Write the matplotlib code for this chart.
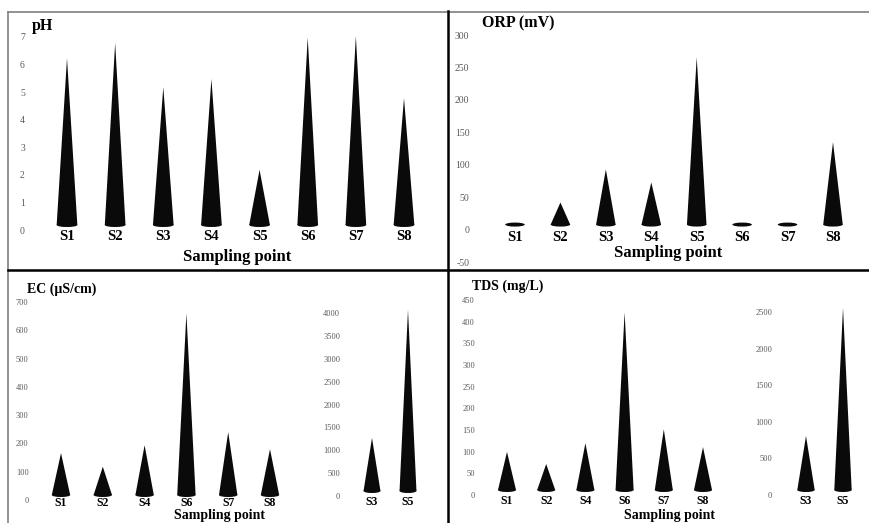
import matplotlib
matplotlib.use("Agg")
import matplotlib.pyplot as plt
from matplotlib.patches import Polygon, Ellipse
from matplotlib.transforms import ScaledTranslation
from matplotlib.lines import Line2D

plt.rcParams["font.family"] = ["Liberation Serif", "DejaVu Serif"]
plt.rcParams["axes.unicode_minus"] = False

W, H = 870, 523

# ---- data ----
ph_sites = ["S1", "S2", "S3", "S4", "S5", "S6", "S7", "S8"]
ph_values = [6.05, 6.6, 5.0, 5.3, 2.0, 6.8, 6.85, 4.6]
ph_ticks = list(range(0, 8))

orp_sites = ["S1", "S2", "S3", "S4", "S5", "S6", "S7", "S8"]
orp_values = [2, 34, 85, 65, 258, 2, 2, 127]
orp_ticks = list(range(-50, 301, 50))

ec_sites = ["S1", "S2", "S4", "S6", "S7", "S8"]
ec_values = [148, 100, 176, 642, 222, 162]
ec_ticks = list(range(0, 701, 100))
ec_high_sites = ["S3", "S5"]
ec_high_values = [1160, 3960]
ec_high_ticks = list(range(0, 4001, 500))

tds_sites = ["S1", "S2", "S4", "S6", "S7", "S8"]
tds_values = [88, 60, 108, 410, 140, 99]
tds_ticks = list(range(0, 451, 50))
tds_high_sites = ["S3", "S5"]
tds_high_values = [738, 2487]
tds_high_ticks = list(range(0, 2501, 500))

fig = plt.figure(figsize=(W / 100, H / 100), dpi=100)
fig.patch.set_facecolor("white")


def make_axes(first_px, last_px, n, ticks, y0_px, y1_px, pad, size):
    # axes placed so that category 1..n and ylim land on the given pixels
    step = (last_px - first_px) / max(n - 1, 1)
    left = first_px - step / 2
    right = last_px + step / 2
    ax = fig.add_axes([left / W, 1 - y0_px / H, (right - left) / W, (y0_px - y1_px) / H])
    ax.set_xlim(0.5, n + 0.5)
    ax.set_ylim(ticks[0], ticks[-1])
    ax.set_yticks(ticks)
    ax.set_xticks([])
    ax.tick_params(axis="y", length=0, pad=pad, labelsize=size, labelcolor="#5a5a5a")
    for sp in ax.spines.values():
        sp.set_visible(False)
    ax.patch.set_alpha(0)
    return ax


def draw_cones(ax, sites, values, width, label_dy, label_size):
    ymin, ymax = ax.get_ylim()
    px_per_unit = ax.bbox.height / (ymax - ymin)
    # 3d floor of the original sits ~5px above the zero line
    lift = ax.transData + ScaledTranslation(0, 0.05, fig.dpi_scale_trans)
    ell_h = 4 / px_per_unit
    for i, (s, v) in enumerate(zip(sites, values), start=1):
        ax.add_patch(Polygon([(i - width / 2, 0), (i, v), (i + width / 2, 0)],
                             closed=True, fc="#0a0a0a", ec="none",
                             transform=lift, clip_on=False))
        ax.add_patch(Ellipse((i, 0), width, ell_h, fc="#0a0a0a", ec="none",
                             transform=lift, clip_on=False))
        ax.annotate(s, (i, 0), xytext=(0, label_dy), textcoords="offset points",
                    ha="center", va="center", fontsize=label_size, fontweight="bold")


# pH
ax = make_axes(67, 404, 8, ph_ticks, 230, 37, 13, 7)
draw_cones(ax, ph_sites, ph_values, 0.43, -5, 10.5)

# ORP
ax = make_axes(515, 833, 8, orp_ticks, 262, 35, 16.5, 7)
draw_cones(ax, orp_sites, orp_values, 0.43, -5.8, 10.5)

# EC
ax = make_axes(61, 270, 6, ec_ticks, 500, 302, 8.3, 6)
draw_cones(ax, ec_sites, ec_values, 0.44, -2.2, 8.5)
ax = make_axes(372, 408, 2, ec_high_ticks, 496, 313, 10, 6)
draw_cones(ax, ec_high_sites, ec_high_values, 0.47, -4.3, 8.5)

# TDS
ax = make_axes(507, 703, 6, tds_ticks, 495, 300, 9, 6)
draw_cones(ax, tds_sites, tds_values, 0.46, -4.3, 8.5)
ax = make_axes(806, 843, 2, tds_high_ticks, 495, 312, 11, 6)
draw_cones(ax, tds_high_sites, tds_high_values, 0.47, -4.3, 8.5)


def ftext(x, y, s, size, ha="left"):
    fig.text(x / W, 1 - y / H, s, ha=ha, va="center", fontsize=size, fontweight="bold")


ftext(32, 26, "pH", 11.5)
ftext(482, 23, "ORP (mV)", 11.5)
ftext(27, 289, "EC (µS/cm)", 10)
ftext(472, 286, "TDS (mg/L)", 10)
ftext(237, 257, "Sampling point", 12, "center")
ftext(668, 253, "Sampling point", 12, "center")
ftext(220, 515, "Sampling point", 10, "center")
ftext(670, 515, "Sampling point", 10, "center")


def fline(x0, y0, x1, y1, color, lw):
    fig.add_artist(Line2D([x0 / W, x1 / W], [1 - y0 / H, 1 - y1 / H],
                          transform=fig.transFigure, color=color, lw=lw))


fline(8, 11.5, 870, 11.5, "#808080", 1.2)
fline(8, 11.5, 8, 523, "#808080", 1.2)
fline(448, 11, 448, 523, "black", 1.8)
fline(8, 270, 870, 270, "black", 1.8)

fig.savefig("out.png", dpi=100)
